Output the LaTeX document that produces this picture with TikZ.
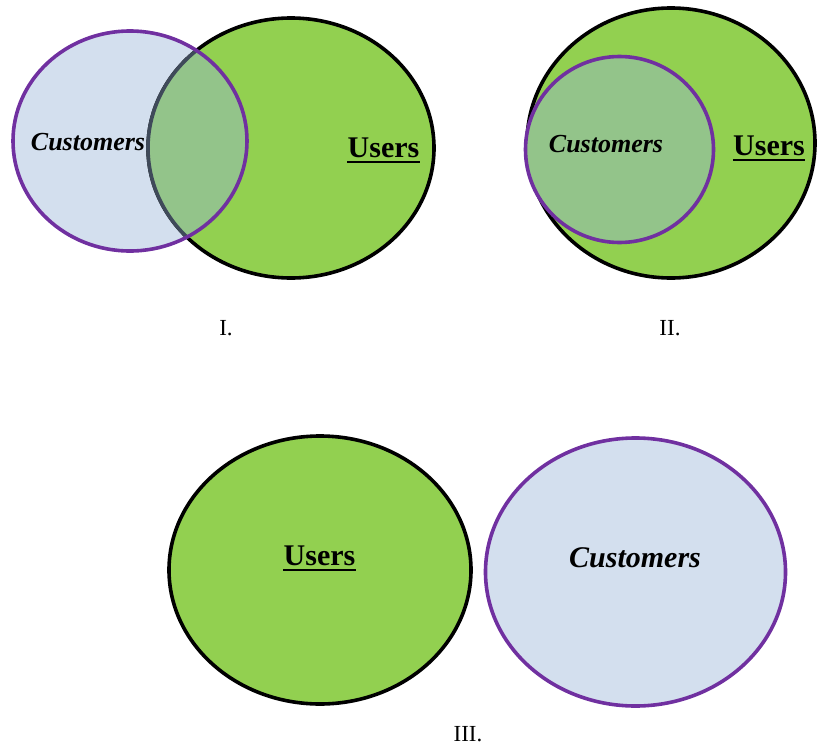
\documentclass[tikz,border=0pt]{standalone}
\usepackage{fontspec}
\setmainfont{Liberation Serif}
\definecolor{usrgreen}{HTML}{92D050}
\definecolor{custblue}{HTML}{D3DFEE}
\definecolor{overlapc}{HTML}{93C48A}
\definecolor{slatec}{HTML}{3F4A5A}
\definecolor{custpurple}{HTML}{7030A0}
\tikzset{
  usrshape/.style={fill=usrgreen, draw=black, line width=3.6pt},
  custshape/.style={fill=custblue, draw=custpurple, line width=3.6pt},
  custlbl/.style={inner sep=0pt, anchor=base, font=\fontsize{26}{26}\selectfont\bfseries\itshape},
  usrlbl/.style={inner sep=0pt, anchor=base, font=\fontsize{30}{30}\selectfont\bfseries},
  numlbl/.style={inner sep=0pt, anchor=base, font=\fontsize{23}{23}\selectfont},
  uline/.style={line width=2pt}
}
\begin{document}
\begin{tikzpicture}[x=1pt, y=-1pt]
\useasboundingbox (0,0) rectangle (817,747);
% ---------- I ----------
\path[fill=custblue] (130,141) ellipse [x radius=117, y radius=110];
\path[usrshape] (291,148) ellipse [x radius=143, y radius=130];
\begin{scope}
  \clip (130,141) ellipse [x radius=117, y radius=110];
  \path[fill=overlapc] (291,148) ellipse [x radius=143, y radius=130];
  \path[draw=slatec, line width=3.6pt] (291,148) ellipse [x radius=143, y radius=130];
\end{scope}
\path[draw=custpurple, line width=3.6pt] (130,141) ellipse [x radius=117, y radius=110];
\node[custlbl] (c1) at (88,150) {Customers};
\node[usrlbl] (u1) at (383.5,157) {Users};
\draw[uline] ([yshift=-5pt]u1.base west) -- ([yshift=-5pt]u1.base east);
\node[numlbl] (n1) at (226,335) {I.};
% ---------- II ----------
\path[usrshape] (671,143) ellipse [x radius=144, y radius=135];
\path[fill=overlapc, draw=custpurple, line width=3.6pt] (619.5,149.5) ellipse [x radius=94, y radius=93];
\node[custlbl] (c2) at (606,152) {Customers};
\node[usrlbl] (u2) at (769,155) {Users};
\draw[uline] ([yshift=-5pt]u2.base west) -- ([yshift=-5pt]u2.base east);
\node[numlbl] (n2) at (670,335) {II.};
% ---------- III ----------
\path[usrshape] (320,570) ellipse [x radius=151, y radius=134];
\path[custshape] (635.5,572) ellipse [x radius=150, y radius=134];
\node[usrlbl] (u3) at (319.5,565) {Users};
\draw[uline] ([yshift=-5pt]u3.base west) -- ([yshift=-5pt]u3.base east);
\node[custlbl, font=\fontsize{30}{30}\selectfont\bfseries\itshape] (c3) at (635,567) {Customers};
\node[numlbl] (n3) at (468,741) {III.};
\end{tikzpicture}
\end{document}
